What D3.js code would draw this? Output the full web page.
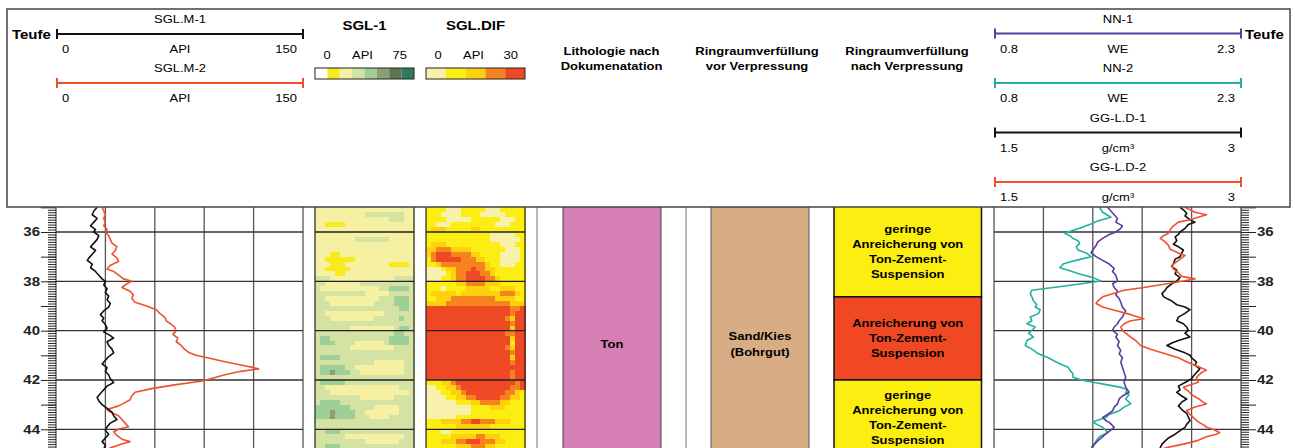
<!DOCTYPE html>
<html>
<head>
<meta charset="utf-8">
<script src="https://cdn.jsdelivr.net/npm/d3@7"></script>
<style>
  body { margin: 0; background: #fff; }
  svg { display: block; }
  text { font-family: "Liberation Sans", Arial, sans-serif; }
</style>
</head>
<body>
<svg></svg>
<script>
// ---- depth axis ----
var depthLabels = [36, 38, 40, 42, 44];
var oddDepths = [35, 37, 39, 41, 43];
var gammaTicks = [0, 30, 60, 90, 120, 150];
var nnTicks = [0.8, 1.1, 1.4, 1.7, 2.0, 2.3];

// ---- SGL.M-1 / SGL.M-2 (API) ----
var sglM1Depth = [35.0,35.15,35.3,35.45,35.6,35.75,35.9,36.0,36.15,36.3,36.45,36.6,36.75,36.9,37.05,37.15,37.3,37.45,37.6,37.75,37.9,38.0,38.15,38.3,38.45,38.6,38.75,38.9,39.05,39.2,39.35,39.5,39.6,39.75,39.9,40.05,40.2,40.3,40.45,40.6,40.75,40.9,41.05,41.2,41.35,41.5,41.65,41.8,41.95,42.1,42.25,42.4,42.55,42.7,42.85,43.0,43.15,43.3,43.45,43.6,43.75,43.9,44.05,44.2,44.35,44.5,44.65,44.8];
var sglM1Api = [25,23,22,25,23,21,24,23,26,25,23,21,24,22,20,19,22,21,24,26,28,30,29,31,30,32,31,33,32,29,27,29,28,30,31,29,33,35,31,32,34,35,32,30,28,31,30,32,33,35,31,29,27,25,26,28,31,34,35,37,33,31,30,32,30,28,30,29];

var sglM2Depth = [35.0,35.15,35.3,35.45,35.6,35.75,35.9,36.0,36.15,36.3,36.45,36.6,36.75,36.9,37.05,37.2,37.35,37.5,37.6,37.75,37.9,38.0,38.1,38.25,38.4,38.55,38.7,38.85,39.0,39.15,39.3,39.45,39.6,39.75,39.85,40.0,40.15,40.3,40.45,40.6,40.75,40.9,41.0,41.1,41.25,41.4,41.5,41.55,41.65,41.8,41.95,42.05,42.2,42.35,42.5,42.65,42.8,42.95,43.05,43.2,43.3,43.45,43.6,43.75,43.9,44.0,44.1,44.25,44.4,44.5,44.6,44.75,44.85];
var sglM2Api = [28,29,30,29,30,29,31,30,32,33,34,37,36,34,37,38,33,31,35,38,41,46,43,40,45,47,46,48,55,61,63,66,67,70,72,73,71,74,73,76,78,81,85,92,102,113,120,123,112,102,94,88,72,58,48,46,45,41,38,31,33,38,40,42,44,38,35,37,40,45,40,33,31];

// ---- NN-1 / NN-2 (WE) ----
var nn1Depth = [35.0,35.15,35.3,35.45,35.6,35.75,35.85,36.0,36.1,36.26,36.4,36.55,36.73,36.85,37.0,37.15,37.3,37.48,37.6,37.75,37.99,38.1,38.25,38.4,38.55,38.7,38.85,39.04,39.2,39.31,39.45,39.6,39.72,39.85,39.99,40.15,40.26,40.45,40.6,40.8,40.94,41.1,41.28,41.48,41.7,41.89,42.09,42.3,42.5,42.65,42.77,42.97,43.1,43.25,43.4,43.52,43.65,43.72,43.85,43.92,44.13,44.3,44.47,44.6,44.74];
var nn1We = [1.49,1.51,1.53,1.55,1.54,1.58,1.57,1.54,1.50,1.46,1.43,1.42,1.40,1.39,1.42,1.46,1.50,1.53,1.52,1.54,1.55,1.52,1.53,1.55,1.54,1.56,1.57,1.58,1.60,1.59,1.58,1.56,1.55,1.53,1.52,1.55,1.54,1.56,1.55,1.57,1.56,1.58,1.57,1.58,1.59,1.60,1.59,1.60,1.62,1.58,1.56,1.55,1.53,1.52,1.49,1.46,1.48,1.50,1.52,1.53,1.49,1.46,1.43,1.41,1.39];

var nn2Depth = [35.0,35.2,35.4,35.55,35.7,35.85,36.0,36.05,36.15,36.26,36.35,36.46,36.6,36.73,36.85,37.0,37.1,37.2,37.3,37.45,37.55,37.7,37.85,37.99,38.1,38.2,38.3,38.36,38.5,38.63,38.8,38.95,39.04,39.15,39.31,39.45,39.6,39.72,39.85,39.99,40.1,40.26,40.4,40.6,40.75,40.94,41.1,41.28,41.4,41.48,41.6,41.75,41.89,42.0,42.09,42.2,42.3,42.4,42.5,42.6,42.77,42.9,42.97,43.1,43.25,43.4,43.52,43.65,43.72,43.85,43.92,44.05,44.13,44.3,44.47,44.6,44.74];
var nn2We = [1.44,1.46,1.51,1.43,1.38,1.32,1.25,1.23,1.26,1.28,1.31,1.32,1.30,1.31,1.36,1.39,1.33,1.27,1.22,1.20,1.25,1.32,1.40,1.45,1.33,1.22,1.10,1.03,1.02,1.03,1.04,1.06,1.05,1.08,1.07,1.02,1.03,1.00,1.05,1.03,1.01,1.04,1.00,0.99,1.03,1.07,1.13,1.18,1.22,1.25,1.26,1.28,1.28,1.33,1.40,1.49,1.57,1.61,1.60,1.62,1.60,1.62,1.63,1.59,1.56,1.50,1.48,1.42,1.40,1.44,1.46,1.48,1.49,1.44,1.42,1.41,1.40];

// ---- GG-L.D-1 / GG-L.D-2 (g/cm3) ----
var gg1Depth = [35.0,35.1,35.24,35.35,35.5,35.6,35.7,35.85,36.0,36.1,36.2,36.35,36.5,36.6,36.73,36.85,37.0,37.1,37.28,37.4,37.55,37.7,37.85,37.99,38.1,38.25,38.36,38.5,38.63,38.8,38.95,39.04,39.15,39.3,39.45,39.6,39.72,39.85,39.99,40.1,40.26,40.4,40.5,40.6,40.75,40.9,41.0,41.1,41.28,41.4,41.55,41.7,41.85,41.95,42.1,42.25,42.4,42.5,42.65,42.77,42.9,43.05,43.2,43.35,43.5,43.65,43.8,43.92,44.05,44.2,44.35,44.47,44.6,44.74,44.85];
var gg1Rho = [2.63,2.65,2.67,2.66,2.69,2.72,2.68,2.66,2.63,2.62,2.60,2.61,2.59,2.62,2.65,2.64,2.63,2.60,2.59,2.58,2.61,2.60,2.63,2.61,2.58,2.55,2.54,2.52,2.53,2.58,2.61,2.66,2.69,2.66,2.62,2.61,2.65,2.67,2.68,2.66,2.69,2.62,2.58,2.55,2.60,2.66,2.69,2.70,2.73,2.72,2.75,2.73,2.71,2.70,2.66,2.62,2.63,2.61,2.64,2.67,2.64,2.62,2.64,2.67,2.68,2.69,2.67,2.66,2.63,2.60,2.56,2.54,2.52,2.51,2.50];

var gg2Depth = [35.0,35.1,35.2,35.3,35.4,35.5,35.6,35.75,35.9,36.05,36.15,36.26,36.4,36.55,36.7,36.85,36.95,37.05,37.2,37.35,37.5,37.65,37.8,37.9,37.99,38.1,38.25,38.36,38.5,38.63,38.8,38.9,39.04,39.15,39.31,39.4,39.52,39.6,39.72,39.85,39.99,40.1,40.26,40.4,40.6,40.75,40.9,41.0,41.1,41.2,41.35,41.48,41.6,41.7,41.89,42.09,42.2,42.3,42.45,42.6,42.75,42.9,42.97,43.1,43.25,43.4,43.52,43.7,43.85,43.92,44.0,44.13,44.2,44.3,44.47,44.6,44.74,44.85];
var gg2Rho = [2.66,2.69,2.72,2.79,2.74,2.69,2.62,2.59,2.57,2.56,2.53,2.51,2.54,2.56,2.57,2.62,2.66,2.64,2.61,2.58,2.59,2.62,2.64,2.72,2.65,2.55,2.41,2.29,2.22,2.16,2.13,2.12,2.16,2.22,2.31,2.35,2.41,2.33,2.29,2.27,2.28,2.30,2.33,2.36,2.39,2.45,2.52,2.57,2.62,2.65,2.70,2.75,2.79,2.76,2.73,2.74,2.69,2.65,2.68,2.70,2.74,2.77,2.79,2.72,2.67,2.69,2.71,2.74,2.78,2.79,2.83,2.87,2.85,2.79,2.73,2.65,2.55,2.50];

// ---- azimuthal images (one string per 0.2 m row, one digit per sector = colour class) ----
var imageTopDepth = 35.0;
var imageRowStep = 0.2;
var sgl1Colors = ["#ffffff","#f7eb20","#f6f0a2","#d4e3a3","#9ecf98","#8b9f73","#5b7653","#327a5d"];
var sglDifColors = ["#f8f1ab","#fcee13","#fdd10c","#f68220","#ee4924"];
var sgl1Rows = [
  "22222222222222222222","22222222223333333322","22222222222222233322","22111122222222222222",
  "22222222222222222222","22222222222222222222","22222222333333322222","22222222222222222222",
  "22222222222222222222","22211222222222222222","22111111222222222222","22211122222222211112",
  "22111112222222222222","22221122222222222222","33322222222222223333","33222222233333333333",
  "32222222222223344443","33333333332222233333","33222222222223334443","33322222222233334443",
  "33333333333333333443","33222222222222333333","33322222222233333433","33333333333333333333",
  "33333332222222223443","33333333333333334433","34433333333333344443","34443333222222344443",
  "33333332222222223333","33333333333333333333","34444333333333333333","33333333333322222233",
  "34444433222222222233","34454443322222222233","33333333333333333333","34444433333333333333",
  "33222222222222222333","33322222222222222223","33333333322222223333","34444333333333333333",
  "44444443333322222333","44454444332222222333","44454444333222233333","33333333333333333333",
  "33333333333333333333","33444333333333333333","33333322222222222233","33333333332222222333",
  "33444333333333333333"
];
var sglDifRows = [
  "11110001111100011111","11100001111000001111","11110000011111100011","11000111111111000111",
  "12221111122111111111","11111111111110000011","11111111111110000001","12221111111111100011",
  "22333222211111110001","23444333322111100001","13444443332211100001","11233333333321100011",
  "00012233343322111111","00001233444332111111","00011233444433211111","11111122333322211111",
  "11101111222221122211","12222212222222233321","11222333333333222211","22223333333333333222",
  "44444444444444444334","44444444444444444344","44444444444444443244","44444444444444444344",
  "44444444444444444244","44444444444444443344","44444444444444444244","44444444444444444144",
  "44444444444444443244","44444444444444444344","44444444444444444244","44444444444444444344",
  "44444444444444444444","44444444444444444344","44444444444444444344","11122344444444444434",
  "00112234444444444334","00011223444444443321","00001122334444433221","00000011122333322111",
  "00000000011112221111","00000000011111111111","00000011111111111111","11122223344333222111",
  "11111122222221111111","11100111111111111111","11111222223322211111","11122233444333221111",
  "11111122233322111111"
];

// ---- interpretation columns ----
var lithTops = [34.9], lithBottoms = [46.1], lithLabels = [["Ton"]], lithColors = ["#d67fb5"];
var vorTops = [34.9], vorBottoms = [46.1], vorLabels = [["Sand/Kies", "(Bohrgut)"]], vorColors = ["#d8ad86"];
var nachTops = [34.9, 38.63, 42.0];
var nachBottoms = [38.63, 42.0, 45.08];
var nachLabels = [
  ["geringe", "Anreicherung von", "Ton-Zement-", "Suspension"],
  ["Anreicherung von", "Ton-Zement-", "Suspension"],
  ["geringe", "Anreicherung von", "Ton-Zement-", "Suspension"]
];
var nachColors = ["#fcee10", "#ef4823", "#fcee10"];

// ================= drawing =================
var W = 1295, H = 448, dataTop = 207;
var svg = d3.select("svg").attr("width", W).attr("height", H);

var y = d3.scaleLinear().domain([36, 44]).range([232, 429.3]);
var xGamma = d3.scaleLinear().domain([0, 150]).range([56, 303]);
var xNN = d3.scaleLinear().domain([0.8, 2.3]).range([994, 1241]);
var xGG = d3.scaleLinear().domain([1.5, 3]).range([994, 1241]);
var colSgl1 = d3.scaleBand().domain(d3.range(20)).range([315, 414]);
var colDif = d3.scaleBand().domain(d3.range(20)).range([426, 525]);

var SQ = 0.82; // vertical squash of the lettering in the original

function txt(parent, x, yy, s, size, weight, anchor, color) {
  return parent.append("text")
    .attr("transform", "translate(" + x + "," + yy + ") scale(1," + SQ + ")")
    .attr("text-anchor", anchor || "middle")
    .style("font-size", size + "px")
    .style("font-weight", weight || "normal")
    .attr("fill", color || "#000")
    .text(s);
}

svg.append("defs").append("clipPath").attr("id", "clip")
  .append("rect").attr("x", 0).attr("y", dataTop).attr("width", W).attr("height", H - dataTop);

var data = svg.append("g").attr("clip-path", "url(#clip)");

// azimuthal images
function drawImage(rows, colours, band) {
  var g = data.append("g").attr("shape-rendering", "crispEdges");
  rows.forEach(function (row, i) {
    var d0 = imageTopDepth + i * imageRowStep;
    var y0 = y(d0), y1 = y(d0 + imageRowStep);
    row.split("").forEach(function (c, j) {
      g.append("rect")
        .attr("x", band(j)).attr("y", y0)
        .attr("width", band.bandwidth() + 0.6).attr("height", y1 - y0 + 0.6)
        .attr("fill", colours[+c]);
    });
  });
  var r = band.range();
  data.append("rect").attr("x", r[0]).attr("y", dataTop - 2).attr("width", r[1] - r[0]).attr("height", H)
    .attr("fill", "none").attr("stroke", "#222").attr("stroke-width", 1.2);
  depthLabels.forEach(function (d) {
    data.append("line").attr("x1", r[0]).attr("x2", r[1]).attr("y1", y(d)).attr("y2", y(d))
      .attr("stroke", "#222").attr("stroke-width", 1.3);
  });
}
drawImage(sgl1Rows, sgl1Colors, colSgl1);
drawImage(sglDifRows, sglDifColors, colDif);

// track grids
function drawGrid(xs, ticks) {
  var r = xs.range();
  ticks.forEach(function (t) {
    data.append("line").attr("x1", xs(t)).attr("x2", xs(t)).attr("y1", dataTop).attr("y2", H)
      .attr("stroke", "#555").attr("stroke-width", 1.3);
  });
  depthLabels.forEach(function (d) {
    data.append("line").attr("x1", r[0]).attr("x2", r[1]).attr("y1", y(d)).attr("y2", y(d))
      .attr("stroke", "#333").attr("stroke-width", 1.3);
  });
}
drawGrid(xGamma, gammaTicks);
drawGrid(xNN, nnTicks);

// track separators
[537, 686].forEach(function (x) {
  data.append("line").attr("x1", x).attr("x2", x).attr("y1", dataTop).attr("y2", H)
    .attr("stroke", "#777").attr("stroke-width", 1);
});

// curves
function drawCurve(depths, vals, xs, colour) {
  var pts = depths.map(function (d, i) { return [d, vals[i]]; });
  data.append("path").datum(pts)
    .attr("d", d3.line().x(function (p) { return xs(p[1]); }).y(function (p) { return y(p[0]); }))
    .attr("fill", "none").attr("stroke", colour).attr("stroke-width", 1.6)
    .attr("stroke-linejoin", "round");
}
drawCurve(sglM2Depth, sglM2Api, xGamma, "#f0502c");
drawCurve(sglM1Depth, sglM1Api, xGamma, "#111");
drawCurve(nn2Depth, nn2We, xNN, "#22b29c");
drawCurve(nn1Depth, nn1We, xNN, "#5a3ca0");
drawCurve(gg1Depth, gg1Rho, xGG, "#111");
drawCurve(gg2Depth, gg2Rho, xGG, "#f0502c");

// interpretation columns
function drawBeds(tops, bottoms, labels, colours, x0, x1, stroke, sw, lineGap) {
  tops.forEach(function (t, i) {
    var y0 = y(t), y1 = y(bottoms[i]);
    data.append("rect").attr("x", x0).attr("y", y0).attr("width", x1 - x0).attr("height", y1 - y0)
      .attr("fill", colours[i]).attr("stroke", stroke).attr("stroke-width", sw);
    var cy = (Math.max(y0, dataTop) + y1) / 2;
    var n = labels[i].length;
    labels[i].forEach(function (s, k) {
      txt(data, (x0 + x1) / 2, cy + (k - (n - 1) / 2) * lineGap + 4, s, 13, "bold");
    });
  });
}
drawBeds(lithTops, lithBottoms, lithLabels, lithColors, 563, 661, "#444", 1, 15);
drawBeds(vorTops, vorBottoms, vorLabels, vorColors, 711, 809, "#555", 1, 16.5);
drawBeds(nachTops, nachBottoms, nachLabels, nachColors, 834, 981.5, "#111", 1.5, 15);

// depth tracks
var minorDepths = d3.range(351, 449).map(function (v) { return v / 10; });
function depthAxis(xPos, axisFn) {
  var g = data.append("g").attr("transform", "translate(" + xPos + ",0)");
  g.append("g").call(axisFn(y).tickValues(minorDepths).tickSize(8).tickFormat(""));
  g.append("g").call(axisFn(y).tickValues(oddDepths).tickSize(15).tickFormat(""));
  g.append("g").call(axisFn(y).tickValues(depthLabels).tickSize(15).tickPadding(1).tickFormat(d3.format("d")));
  g.selectAll(".domain").remove();
  g.selectAll("line").attr("stroke", "#222").attr("stroke-width", 1);
  g.selectAll("text")
    .attr("fill", "#222")
    .style("font-family", "'Liberation Sans', Arial, sans-serif")
    .style("font-size", "15px").style("font-weight", "bold")
    .attr("transform", "scale(1," + SQ + ")");
}
depthAxis(56, d3.axisLeft);
depthAxis(1241, d3.axisRight);

// ================= header =================
var head = svg.append("g");
head.append("rect").attr("x", 7).attr("y", 9).attr("width", 1283).attr("height", dataTop - 9)
  .attr("fill", "none").attr("stroke", "#444").attr("stroke-width", 1.5);

function legendLine(x0, x1, yl, colour, title, lo, unit, hi) {
  txt(head, (x0 + x1) / 2, yl - 11, title, 13);
  head.append("line").attr("x1", x0).attr("x2", x1).attr("y1", yl).attr("y2", yl)
    .attr("stroke", colour).attr("stroke-width", 2);
  [x0, x1].forEach(function (x) {
    head.append("line").attr("x1", x).attr("x2", x).attr("y1", yl - 5).attr("y2", yl + 5)
      .attr("stroke", colour).attr("stroke-width", 2);
  });
  txt(head, x0 + 5, yl + 19, lo, 13, "normal", "start");
  txt(head, (x0 + x1) / 2, yl + 19, unit, 13);
  txt(head, x1 - 6, yl + 19, hi, 13, "normal", "end");
}
legendLine(57, 303, 34, "#111", "SGL.M-1", "0", "API", "150");
legendLine(57, 303, 83, "#f0502c", "SGL.M-2", "0", "API", "150");
legendLine(995, 1241, 33.5, "#5a3ca0", "NN-1", "0.8", "WE", "2.3");
legendLine(995, 1241, 83, "#22b29c", "NN-2", "0.8", "WE", "2.3");
legendLine(995, 1241, 132.5, "#111", "GG-L.D-1", "1.5", "g/cm³", "3");
legendLine(995, 1241, 182, "#f0502c", "GG-L.D-2", "1.5", "g/cm³", "3");

txt(head, 12, 39, "Teufe", 15, "bold", "start");
txt(head, 1245, 39, "Teufe", 15, "bold", "start");

// colour-bar legends
function colourBar(band, colours, title, hi) {
  var r = band.range();
  var cb = d3.scaleBand().domain(d3.range(colours.length)).range(r);
  txt(head, (r[0] + r[1]) / 2, 30, title, 15, "bold");
  txt(head, r[0] + 12, 59, "0", 13);
  txt(head, (r[0] + r[1]) / 2 - 2, 59, "API", 13);
  txt(head, r[1] - 7, 59, hi, 13, "normal", "end");
  colours.forEach(function (c, i) {
    head.append("rect").attr("x", cb(i)).attr("y", 68).attr("width", cb.bandwidth()).attr("height", 11)
      .attr("fill", c);
  });
  head.append("rect").attr("x", r[0]).attr("y", 68).attr("width", r[1] - r[0]).attr("height", 11)
    .attr("fill", "none").attr("stroke", "#222").attr("stroke-width", 1);
}
colourBar(colSgl1, sgl1Colors, "SGL-1", "75");
colourBar(colDif, sglDifColors, "SGL.DIF", "30");

// column titles
[["Lithologie nach", "Dokumenatation", 611.5],
 ["Ringraumverfüllung", "vor Verpressung", 757],
 ["Ringraumverfüllung", "nach Verpressung", 907]].forEach(function (t) {
  txt(head, t[2], 55, t[0], 13, "bold");
  txt(head, t[2], 70, t[1], 13, "bold");
});
</script>
</body>
</html>
